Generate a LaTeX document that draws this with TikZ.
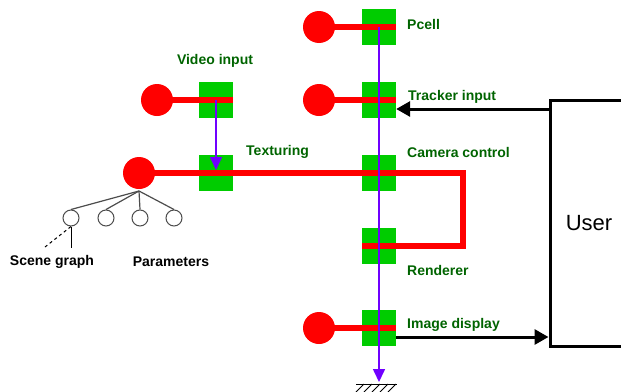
\documentclass[tikz,border=0pt]{standalone}
\usepackage{fontspec}
\setsansfont{Liberation Sans}
\usetikzlibrary{arrows.meta, positioning}

\definecolor{portgreen}{RGB}{0,204,0}
\definecolor{labgreen}{RGB}{0,100,0}
\definecolor{flowblue}{RGB}{112,0,255}

\begin{document}
\begin{tikzpicture}[x=1pt, y=-1pt,
  port/.style={fill=portgreen, minimum width=34pt, minimum height=36pt,
               inner sep=0pt},
  obj/.style={circle, fill=red, minimum size=32pt, inner sep=0pt},
  leaf/.style={circle, draw=black!70, line width=1pt, fill=white,
               minimum size=16pt, inner sep=0pt},
  lbl/.style={anchor=west, inner sep=0pt, text=labgreen,
              font=\sffamily\bfseries\fontsize{14}{16}\selectfont},
  blk/.style={inner sep=0pt,
              font=\sffamily\bfseries\fontsize{14}{16}\selectfont},
  wire/.style={red, line width=6.5pt},
  flow/.style={flowblue, line width=1.6pt,
               -{Triangle[length=13pt, width=12pt]}},
  sig/.style={black, line width=3pt,
              -{Triangle[length=14pt, width=15pt]}},
  tree/.style={black!70, line width=1.2pt}]

  \useasboundingbox (0,0) rectangle (621,391);

  % ports and objects
  \node[port] (pcell) at (379,27) {};
  \node[port] (track) at (379,100) {};
  \node[port] (cam) at (379,173) {};
  \node[port] (rend) at (379,246) {};
  \node[port] (disp) at (379,328) {};
  \node[port] (video) at (216,100) {};
  \node[port] (tex) at (216,173) {};

  \node[obj] (pcellobj) at (319,27) {};
  \node[obj] (trackobj) at (319,100) {};
  \node[obj] (dispobj) at (319,328) {};
  \node[obj] (videoobj) at (157,100) {};
  \node[obj] (texobj) at (139,173) {};

  % user box
  \node[draw, line width=3pt, minimum width=78pt, minimum height=246pt,
        font=\sffamily\fontsize{22}{24}\selectfont] (user) at (589,223) {User};

  % red wires
  \draw[wire] (pcellobj.center) -- (pcell.east);
  \draw[wire] (trackobj.center) -- (track.east);
  \draw[wire] (dispobj.center) -- (disp.east);
  \draw[wire] (videoobj.center) -- (video.east);
  \coordinate (bend) at (463,210);
  \draw[wire] (texobj.center) -- (cam.center) -| (bend) |- (rend.west);

  % blue flow
  \coordinate (ground) at (379,382);
  \draw[flow] (pcell.center) -- (ground);
  \draw[flow] (video.center) -- ([yshift=3pt]tex.center);

  \draw[line width=1pt] (356,384) -- (397,384);
  \foreach \x in {364,372,380,388,396}
    \draw[line width=1pt] (\x,384) -- ++(-8,8);

  % black signals
  \coordinate (trk) at ([yshift=-9pt]track.east);
  \coordinate (dsp) at ([yshift=-9pt]disp.east);
  \draw[sig] (trk -| user.west) -- (trk);
  \draw[sig] (dsp) -- (dsp -| user.west);

  % scene graph tree
  \foreach \x/\n in {71/a, 106/b, 140/c, 174/d} {
    \node[leaf] (leaf\n) at (\x,218) {};
    \draw[tree] (139,191) -- (leaf\n.north);
  }
  \coordinate (sgtail) at (45,247);
  \draw[dashed, line width=1pt] (sgtail) -- (leafa.south);
  \draw[line width=1pt] (leafa.south) -- ++(0,21);

  % labels
  \node[lbl] (pcelllbl) at (407,24) {Pcell};
  \node[lbl] (tracklbl) at (408,97) {Tracker input};
  \node[lbl] (camlbl) at (407,152) {Camera control};
  \node[lbl] (rendlbl) at (407,270) {Renderer};
  \node[lbl] (displbl) at (407,325) {Image display};
  \node[lbl] (texlbl) at (246,152) {Texturing};
  \node[lbl, anchor=center] (videolbl) at (215,61) {Video input};
  \node[blk] (sglbl) at (52,262) {Scene graph};
  \node[blk] (parlbl) at (171,262) {Parameters};
\end{tikzpicture}
\end{document}
